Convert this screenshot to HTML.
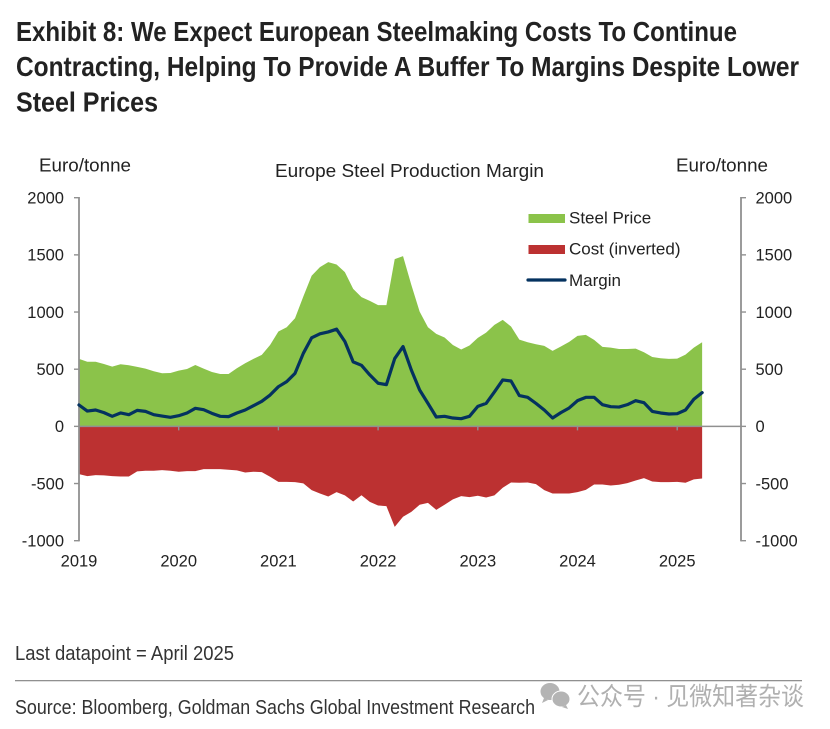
<!DOCTYPE html>
<html lang="en">
<head>
<meta charset="utf-8">
<title>Europe Steel Production Margin</title>
<style>
html,body{margin:0;padding:0;background:#fff;}
svg{display:block;}
text{font-family:"Liberation Sans",Arial,sans-serif;fill:#222;}
</style>
</head>
<body>
<svg id="chart" xmlns="http://www.w3.org/2000/svg" width="830" height="729" viewBox="0 0 830 729">
  <g font-weight="bold" font-size="28">
    <text x="16" y="41" textLength="721" lengthAdjust="spacingAndGlyphs" style="fill:#222">Exhibit 8: We Expect European Steelmaking Costs To Continue</text>
    <text x="16" y="76" textLength="783" lengthAdjust="spacingAndGlyphs" style="fill:#222">Contracting, Helping To Provide A Buffer To Margins Despite Lower</text>
    <text x="16" y="111.5" textLength="142" lengthAdjust="spacingAndGlyphs" style="fill:#222">Steel Prices</text>
  </g>
  <text x="39" y="171.5" font-size="18" textLength="92" lengthAdjust="spacingAndGlyphs">Euro/tonne</text>
  <text x="275" y="177" font-size="18" textLength="269" lengthAdjust="spacingAndGlyphs">Europe Steel Production Margin</text>
  <text x="676" y="171.5" font-size="18" textLength="92" lengthAdjust="spacingAndGlyphs">Euro/tonne</text>

  <path id="steelArea" fill="#8bc34a" stroke="none"></path>
  <path id="costArea" fill="#bc3131" stroke="none"></path>
  <g id="axes"></g>
  <path id="marginLine" fill="none" stroke="#04325f" stroke-width="3.2" stroke-linejoin="round" stroke-linecap="round"></path>

  <g>
    <rect x="528.5" y="214" width="36.5" height="9" fill="#8bc34a"></rect>
    <text x="569" y="223.5" font-size="17">Steel Price</text>
    <rect x="528.5" y="245" width="36.5" height="9" fill="#bc3131"></rect>
    <text x="569" y="254.5" font-size="17">Cost (inverted)</text>
    <line x1="528" y1="280" x2="565" y2="280" stroke="#04325f" stroke-width="3.2" stroke-linecap="round"></line>
    <text x="569" y="286" font-size="17">Margin</text>
  </g>

  <text x="15" y="660" font-size="20" textLength="219" lengthAdjust="spacingAndGlyphs" style="fill:#333">Last datapoint = April 2025</text>
  <line x1="15" y1="680.7" x2="802" y2="680.7" stroke="#808080" stroke-width="1.1"></line>
  <text x="15" y="714" font-size="20" textLength="520" lengthAdjust="spacingAndGlyphs" style="fill:#333">Source: Bloomberg, Goldman Sachs Global Investment Research</text>

  <g fill="#b4b4b4" stroke="#fff" stroke-width="1">
    <ellipse cx="550" cy="691.5" rx="10" ry="9"></ellipse>
    <path d="M544 698l-2 5 6-3z" stroke="none"></path>
    <ellipse cx="561" cy="699" rx="9" ry="8"></ellipse>
    <path d="M566 705l2 4-6-2z" stroke="none"></path>
  </g>
  <text x="577" y="705" font-size="25" textLength="227" lengthAdjust="spacingAndGlyphs" style="fill:#b0b0b0;font-family:'Liberation Sans','Noto Sans CJK SC',sans-serif">公众号 · 见微知著杂谈</text>
</svg>
<script>
var yearLabels = ["2019","2020","2021","2022","2023","2024","2025"];
var yTicks = [2000,1500,1000,500,0,-500,-1000];
var steelPrice = [
590,565,565,546,522,543,535,520,505,482,465,467,
488,502,537,505,476,458,458,508,552,590,625,712,
830,867,946,1136,1317,1393,1437,1416,1349,1203,1130,1098,
1060,1060,1463,1489,1238,1004,867,809,777,712,672,707,
774,820,888,931,873,759,736,718,704,660,698,739,
791,800,756,695,689,677,677,680,648,607,596,590,
593,628,689,736];
var costInverted = [
-418,-435,-426,-429,-435,-438,-438,-394,-388,-388,-383,-388,
-397,-391,-391,-374,-374,-374,-380,-385,-403,-397,-400,-441,
-485,-485,-488,-499,-558,-587,-613,-575,-604,-657,-602,-660,
-692,-698,-879,-791,-748,-686,-669,-730,-686,-639,-610,-619,
-607,-622,-604,-537,-491,-493,-491,-505,-558,-587,-587,-587,
-575,-555,-508,-508,-517,-511,-496,-473,-453,-482,-488,-488,
-485,-493,-464,-456];
var margin = [
187,134,143,120,88,117,102,140,131,102,90,79,
93,117,158,146,114,88,85,117,143,181,219,274,
347,391,464,639,774,809,826,850,742,564,534,450,
377,365,593,698,493,318,201,82,88,73,67,88,
175,201,301,406,397,269,254,201,143,73,120,161,
225,254,254,190,172,169,190,225,207,131,117,108,
111,143,237,295];

var NS = "http://www.w3.org/2000/svg";
var plotLeft = 79, plotRight = 741, plotTop = 197.7, plotBottom = 540.7;
var yMax = 2000, yMin = -1000, monthWidth = 99.7 / 12;
function xScale(i){ return plotLeft + i * monthWidth; }
function yScale(v){ return plotTop + (yMax - v) / (yMax - yMin) * (plotBottom - plotTop); }
function linePath(vals){
  var d = "";
  for (var i = 0; i < vals.length; i++){
    d += (i ? "L" : "M") + xScale(i).toFixed(2) + " " + yScale(vals[i]).toFixed(2);
  }
  return d;
}
function areaPath(vals){
  return linePath(vals) + "L" + xScale(vals.length - 1).toFixed(2) + " " + yScale(0).toFixed(2) +
    "L" + xScale(0).toFixed(2) + " " + yScale(0).toFixed(2) + "Z";
}
document.getElementById("steelArea").setAttribute("d", areaPath(steelPrice));
document.getElementById("costArea").setAttribute("d", areaPath(costInverted));
document.getElementById("marginLine").setAttribute("d", linePath(margin));

var axes = document.getElementById("axes");
function addLine(x1, y1, x2, y2, w){
  var l = document.createElementNS(NS, "line");
  l.setAttribute("x1", x1);
  l.setAttribute("y1", y1);
  l.setAttribute("x2", x2);
  l.setAttribute("y2", y2);
  l.setAttribute("stroke", "#909090");
  l.setAttribute("stroke-width", w);
  axes.appendChild(l);
  return l;
}
function addText(x, y, str, anchor){
  var t = document.createElementNS(NS, "text");
  t.setAttribute("x", x);
  t.setAttribute("y", y);
  t.setAttribute("font-size", "16.5");
  t.setAttribute("text-anchor", anchor);
  t.textContent = str;
  axes.appendChild(t);
  return t;
}
var leftAxis = addLine(plotLeft, plotTop - 0.7, plotLeft, plotBottom + 0.7, 1.8);


var rightAxis = addLine(plotRight, plotTop - 0.7, plotRight, plotBottom + 0.7, 1.8);


var xAxis = addLine(plotLeft, yScale(0), plotRight, yScale(0), 1.4);



yTicks.forEach(function(v){
  var y = yScale(v);
  var lt = addLine(plotLeft - 5, y, plotLeft, y, 1.4);
  
  
  var rt = addLine(plotRight, y, plotRight + 5, y, 1.4);
  
  
  var ll = addText(64, y + 5.8, String(v), "end");
  
  
  var rl = addText(755.5, y + 5.8, String(v), "start");
  
  
});
yearLabels.forEach(function(label, k){
  var x = xScale(k * 12);
  if (k > 0){
    var tick = addLine(x, yScale(0), x, yScale(0) + 4, 1.4);
    
    
  }
  var t = addText(x, 566.7, label, "middle");
  
  
});
</script>
</body>
</html>
